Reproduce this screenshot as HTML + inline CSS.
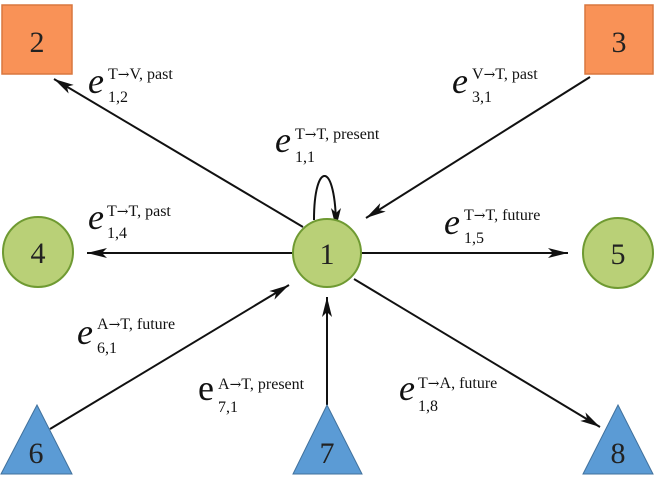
<!DOCTYPE html>
<html><head><meta charset="utf-8"><style>
html,body{margin:0;padding:0;background:#fff;}
svg{display:block;font-family:"Liberation Serif",serif;}
.e{font-size:36px;font-style:italic;}
.s{font-size:16px;}
.ar{font-family:"DejaVu Serif",serif;font-size:14px;}
.n{font-size:30px;text-anchor:middle;fill:#222;}
</style></head><body>
<svg width="655" height="480" viewBox="0 0 655 480">
<defs>
<marker id="a" viewBox="0 0 20 10" refX="20" refY="5" markerWidth="20" markerHeight="10" markerUnits="userSpaceOnUse" orient="auto">
<path d="M0,0 L20,5 L0,10 L5,5 Z" fill="#111"/></marker>
</defs>
<g stroke="#111" stroke-width="2" fill="none">
<line x1="303" y1="227" x2="54" y2="79" marker-end="url(#a)"/>
<line x1="590" y1="77" x2="366" y2="218" marker-end="url(#a)"/>
<line x1="293" y1="253" x2="87" y2="253" marker-end="url(#a)"/>
<line x1="361" y1="253" x2="568" y2="253" marker-end="url(#a)"/>
<line x1="50" y1="429" x2="289" y2="285" marker-end="url(#a)"/>
<line x1="327" y1="405" x2="327" y2="297" marker-end="url(#a)"/>
<line x1="354" y1="279" x2="600" y2="427" marker-end="url(#a)"/>
<path d="M314,220 C314,160 336,160 336,228" marker-end="url(#a)"/>
</g>
<rect x="2" y="5" width="70" height="69" fill="#f99257" stroke="#d9773e" stroke-width="1.5"/>
<rect x="585" y="5" width="68" height="69" fill="#f99257" stroke="#d9773e" stroke-width="1.5"/>
<circle cx="38" cy="252" r="35" fill="#b9d077" stroke="#6f9a32" stroke-width="2"/>
<circle cx="327" cy="253" r="34" fill="#b9d077" stroke="#6f9a32" stroke-width="2"/>
<circle cx="618" cy="253" r="35" fill="#b9d077" stroke="#6f9a32" stroke-width="2"/>
<polygon points="37,405 72,474 1,474" fill="#5b9bd5" stroke="#41719c" stroke-width="1"/>
<polygon points="327,405 362,474 293,474" fill="#5b9bd5" stroke="#41719c" stroke-width="1"/>
<polygon points="618,405 653,474 583,474" fill="#5b9bd5" stroke="#41719c" stroke-width="1"/>
<text class="n" x="37" y="52">2</text>
<text class="n" x="619" y="52">3</text>
<text class="n" x="38" y="263">4</text>
<text class="n" x="327" y="264">1</text>
<text class="n" x="618" y="264">5</text>
<text class="n" x="36" y="463">6</text>
<text class="n" x="327" y="463">7</text>
<text class="n" x="618" y="463">8</text>
<g fill="#111">
<text class="e" x="88" y="93">e</text><text class="s" x="108" y="79">T<tspan class="ar">→</tspan>V, past</text><text class="s" x="108" y="102">1,2</text>
<text class="e" x="452" y="93">e</text><text class="s" x="472" y="79">V<tspan class="ar">→</tspan>T, past</text><text class="s" x="472" y="102">3,1</text>
<text class="e" x="275" y="152">e</text><text class="s" x="295" y="139">T<tspan class="ar">→</tspan>T, present</text><text class="s" x="295" y="162">1,1</text>
<text class="e" x="88" y="229">e</text><text class="s" x="107" y="216">T<tspan class="ar">→</tspan>T, past</text><text class="s" x="107" y="238">1,4</text>
<text class="e" x="444" y="234">e</text><text class="s" x="464" y="220">T<tspan class="ar">→</tspan>T, future</text><text class="s" x="464" y="243">1,5</text>
<text class="e" x="77" y="344">e</text><text class="s" x="97" y="329">A<tspan class="ar">→</tspan>T, future</text><text class="s" x="97" y="353">6,1</text>
<text class="e" x="198" y="400" style="font-style:normal">e</text><text class="s" x="218" y="389">A<tspan class="ar">→</tspan>T, present</text><text class="s" x="218" y="412">7,1</text>
<text class="e" x="399" y="400">e</text><text class="s" x="418" y="388">T<tspan class="ar">→</tspan>A, future</text><text class="s" x="418" y="411">1,8</text>
</g>
</svg>
</body></html>
